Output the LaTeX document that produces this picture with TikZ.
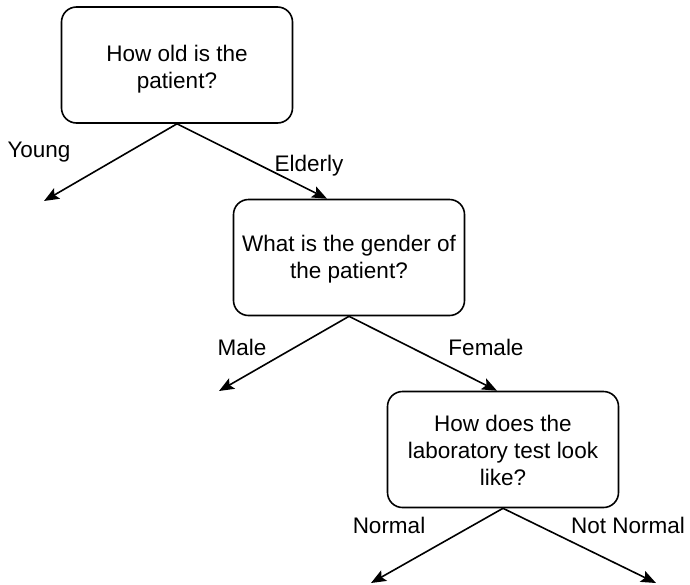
\documentclass[tikz,border=0pt]{standalone}
\usepackage{fontspec}
\setmainfont{Liberation Sans}
\usetikzlibrary{arrows.meta}
\begin{document}
\begin{tikzpicture}[x=1pt,y=-1pt,
  qbox/.style={draw, line width=1.6pt, rounded corners=15pt, align=center,
    minimum width=231pt, minimum height=116pt, inner sep=0pt},
  qtext/.style={align=center, inner sep=0pt, font=\fontsize{22.5}{27}\selectfont},
  lbl/.style={inner sep=0pt, font=\fontsize{22.5}{26}\selectfont},
  conn/.style={line width=1.6pt, -{Stealth[length=15pt,width=12pt,inset=3pt]}}]
\useasboundingbox (0,0) rectangle (690,584);
\node[qbox] (b1) at (177,65) {};
\node[qtext] (t1) at (177,69) {How old is the\\patient?};
\node[qbox] (b2) at (349,257.5) {};
\node[qtext] (t2) at (349,259) {What is the gender of\\the patient?};
\node[qbox] (b3) at (503,449.5) {};
\node[qtext] (t3) at (503,450) {How does the\\laboratory test look\\like?};
\coordinate (young) at (44,201);
\coordinate (male) at (219,391);
\coordinate (normal) at (371,583);
\coordinate (notnormal) at (656,583);
\draw[conn] (b1.south) -- (young);
\draw[conn] (b1.south) -- ([xshift=-22pt]b2.north);
\draw[conn] (b2.south) -- (male);
\draw[conn] (b2.south) -- ([xshift=-6pt]b3.north);
\draw[conn] (b3.south) -- (normal);
\draw[conn] (b3.south) -- (notnormal);
\node[lbl] (lyoung) at (39,152) {Young};
\node[lbl] (lelderly) at (309,166) {Elderly};
\node[lbl] (lmale) at (242,347) {Male};
\node[lbl] (lfemale) at (486,347) {Female};
\node[lbl] (lnormal) at (389,525) {Normal};
\node[lbl] (lnotnormal) at (628,525) {Not Normal};
\end{tikzpicture}
\end{document}
